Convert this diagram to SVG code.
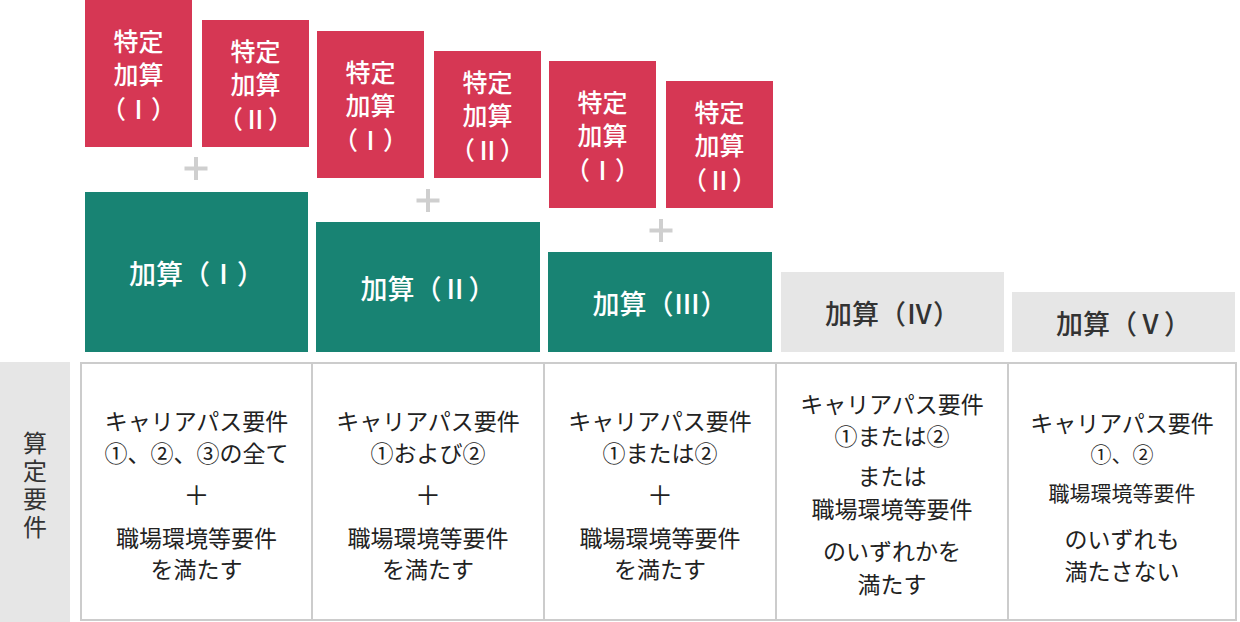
<svg xmlns="http://www.w3.org/2000/svg" width="1240" height="622" viewBox="0 0 1240 622">
<style>
text{font-family:"Noto Sans CJK JP","Noto Sans",sans-serif;text-anchor:middle;dominant-baseline:central}
.red{fill:#d63754}
.green{fill:#188373}
.gray{fill:#e6e6e6}
.wt{fill:#fff;font-size:25px;font-weight:500}
.gt{fill:#fff;font-size:27px;font-weight:500}
.dt{fill:#333;font-size:27px;font-weight:500}
.ct{fill:#222;font-size:23px}
.cs{fill:#222;font-size:21px}
.plus{stroke:#cfcfcf;stroke-width:4;stroke-linecap:butt}
.cell{fill:#fff;stroke:#cccccc;stroke-width:2}
</style>
<rect width="1240" height="622" fill="#fff"/>

<g id="tokutei-1-1"><rect class="red" x="85" y="0" width="107" height="147"/>
<text class="wt" x="138.5" y="40">特定</text><text class="wt" x="138.5" y="73">加算</text><text class="wt" x="138.5" y="108">（Ⅰ）</text></g>
<g id="tokutei-1-2"><rect class="red" x="202" y="20" width="107" height="127"/>
<text class="wt" x="255.5" y="50">特定</text><text class="wt" x="255.5" y="83">加算</text><text class="wt" x="255.5" y="118">（Ⅱ）</text></g>
<g id="tokutei-2-1"><rect class="red" x="317" y="31" width="107" height="147"/>
<text class="wt" x="370.5" y="71">特定</text><text class="wt" x="370.5" y="104">加算</text><text class="wt" x="370.5" y="139">（Ⅰ）</text></g>
<g id="tokutei-2-2"><rect class="red" x="434" y="51" width="107" height="127"/>
<text class="wt" x="487.5" y="81">特定</text><text class="wt" x="487.5" y="114">加算</text><text class="wt" x="487.5" y="149">（Ⅱ）</text></g>
<g id="tokutei-3-1"><rect class="red" x="549" y="61" width="107" height="147"/>
<text class="wt" x="602.5" y="101">特定</text><text class="wt" x="602.5" y="134">加算</text><text class="wt" x="602.5" y="169">（Ⅰ）</text></g>
<g id="tokutei-3-2"><rect class="red" x="666" y="81" width="107" height="127"/>
<text class="wt" x="719.5" y="111">特定</text><text class="wt" x="719.5" y="144">加算</text><text class="wt" x="719.5" y="179">（Ⅱ）</text></g>

<g id="operators">
<path class="plus" d="M184.5 168.5h23M196 157v23"/>
<path class="plus" d="M416.5 200.5h23M428 189v23"/>
<path class="plus" d="M649.5 230.5h23M661 219v23"/>
</g>

<g id="kasan-1"><rect class="green" x="85" y="192" width="223" height="160"/><text class="gt" x="196.5" y="272">加算（Ⅰ）</text></g>
<g id="kasan-2"><rect class="green" x="316" y="222" width="224" height="130"/><text class="gt" x="428" y="287">加算（Ⅱ）</text></g>
<g id="kasan-3"><rect class="green" x="548" y="252" width="224" height="100"/><text class="gt" x="660" y="302">加算（Ⅲ）</text></g>
<g id="kasan-4"><rect class="gray" x="781" y="272" width="223" height="80"/><text class="dt" x="892.5" y="312">加算（Ⅳ）</text></g>
<g id="kasan-5"><rect class="gray" x="1012" y="292" width="223" height="60"/><text class="dt" x="1123.5" y="322">加算（Ⅴ）</text></g>

<g id="label-santei"><rect class="gray" x="0" y="362" width="70" height="260"/>
<text fill="#333" x="35" y="487" writing-mode="vertical-rl" style="font-size:24px;letter-spacing:4px">算定要件</text></g>

<g id="req-1"><rect class="cell" x="81" y="363" width="231" height="257"/>
<text class="ct" x="196.5" y="420">キャリアパス要件</text>
<text class="ct" x="196.5" y="452">①、②、③の全て</text>
<text class="ct" x="196.5" y="493" style="font-size:26px">＋</text>
<text class="ct" x="196.5" y="537">職場環境等要件</text>
<text class="ct" x="196.5" y="568">を満たす</text></g>
<g id="req-2"><rect class="cell" x="312" y="363" width="232" height="257"/>
<text class="ct" x="428" y="420">キャリアパス要件</text>
<text class="ct" x="428" y="452">①および②</text>
<text class="ct" x="428" y="493" style="font-size:26px">＋</text>
<text class="ct" x="428" y="537">職場環境等要件</text>
<text class="ct" x="428" y="568">を満たす</text></g>
<g id="req-3"><rect class="cell" x="544" y="363" width="232" height="257"/>
<text class="ct" x="660" y="420">キャリアパス要件</text>
<text class="ct" x="660" y="452">①または②</text>
<text class="ct" x="660" y="493" style="font-size:26px">＋</text>
<text class="ct" x="660" y="537">職場環境等要件</text>
<text class="ct" x="660" y="568">を満たす</text></g>
<g id="req-4"><rect class="cell" x="776" y="363" width="232" height="257"/>
<text class="ct" x="892" y="403">キャリアパス要件</text>
<text class="ct" x="892" y="435">①または②</text>
<text class="ct" x="892" y="475">または</text>
<text class="ct" x="892" y="508">職場環境等要件</text>
<text class="ct" x="892" y="550">のいずれかを</text>
<text class="ct" x="892" y="583">満たす</text></g>
<g id="req-5"><rect class="cell" x="1008" y="363" width="228" height="257"/>
<text class="ct" x="1122" y="422">キャリアパス要件</text>
<text class="cs" x="1122" y="453">①、②</text>
<text class="cs" x="1122" y="492">職場環境等要件</text>
<text class="ct" x="1122" y="538">のいずれも</text>
<text class="ct" x="1122" y="570">満たさない</text></g>
</svg>
